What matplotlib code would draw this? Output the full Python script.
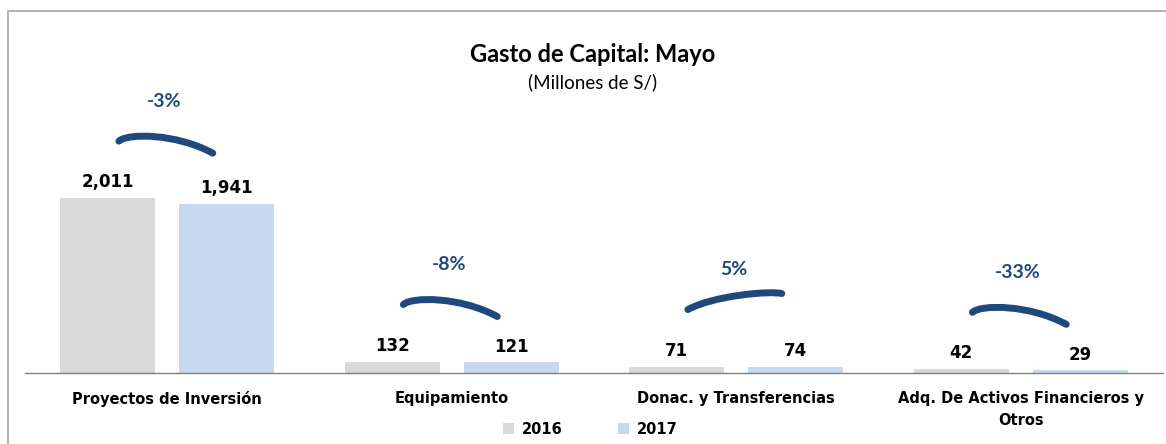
import matplotlib
matplotlib.use('Agg')
import matplotlib.pyplot as plt
import numpy as np
from matplotlib.path import Path
from matplotlib.patches import PathPatch, Patch, Rectangle

# data
categories = ['Proyectos de Inversión', 'Equipamiento', 'Donac. y Transferencias',
              'Adq. De Activos Financieros y\nOtros']
values_2016 = [2011, 132, 71, 42]
values_2017 = [1941, 121, 74, 29]
changes = ['-3%', '-8%', '5%', '-33%']
series_names = ['2016', '2017']

c2016 = '#D9D9D9'
c2017 = '#C6D9F1'
arc_color = '#1F497D'

W, H, DPI = 1166, 444, 100
fig = plt.figure(figsize=(W / DPI, H / DPI), dpi=DPI)

# axes placed in pixel terms
ax_left, ax_right, ax_bottom, ax_top = 25, 1163, 373, 40
ax = fig.add_axes([ax_left / W, (H - ax_bottom) / H,
                   (ax_right - ax_left) / W, (ax_bottom - ax_top) / H])
ymax = 3830
ax.set_ylim(0, ymax)
ax.set_xlim(-0.5, len(categories) - 0.5)
px = ymax / (ax_bottom - ax_top)  # data units per pixel

x = np.arange(len(categories))
bw = 0.334
off = 0.209
b1 = ax.bar(x - off, values_2016, bw, color=c2016, zorder=2)
b2 = ax.bar(x + off, values_2017, bw, color=c2017, zorder=2)

for bars, vals in ((b1, values_2016), (b2, values_2017)):
    for rect, v in zip(bars, vals):
        ax.annotate(f'{v:,}', (rect.get_x() + rect.get_width() / 2, v),
                    xytext=(0, 5), textcoords='offset points',
                    ha='center', va='bottom', fontsize=12, fontweight='bold',
                    family='DejaVu Sans')

# change arcs
for i, (a, b, ch) in enumerate(zip(values_2016, values_2017, changes)):
    base = max(a, b) + 57 * px
    x0, x1 = i - 0.17, i + 0.16
    if b >= a:
        verts = [(x0, base), (i - 0.08, base + 14 * px),
                 (x1 - 0.04, base + 19 * px), (x1, base + 16 * px)]
    else:
        verts = [(x0, base), (x0 + 0.03, base + 8 * px),
                 (x1 - 0.13, base + 8 * px), (x1, base - 12 * px)]
    path = Path(verts, [Path.MOVETO, Path.CURVE4, Path.CURVE4, Path.CURVE4])
    ax.add_patch(PathPatch(path, fill=False, edgecolor=arc_color, lw=5,
                           capstyle='round', zorder=3, clip_on=False))
    ax.text(i - 0.01, base + 40 * px, ch, ha='center', va='center',
            fontsize=14, fontweight='bold', color=arc_color, family='Lato')

ax.set_xticks(x)
ax.set_xticklabels(categories, fontsize=10.5, fontweight='bold', family='DejaVu Sans',
                   linespacing=1.6)
ax.tick_params(axis='x', length=0, pad=13)
ax.set_yticks([])
for s in ('left', 'right', 'top'):
    ax.spines[s].set_visible(False)
ax.spines['bottom'].set_color('#808080')
ax.spines['bottom'].set_linewidth(1.0)
ax.patch.set_alpha(0)

# titles
fig.text(593 / W, 1 - 55 / H, 'Gasto de Capital: Mayo', ha='center', va='center',
         fontsize=17, fontweight='bold', family='Lato')
fig.text(593 / W, 1 - 82 / H, '(Millones de S/)', ha='center', va='center',
         fontsize=13.5, family='Lato')

# legend
handles = [Patch(facecolor=c2016), Patch(facecolor=c2017)]
leg = fig.legend(handles, series_names, loc='center', bbox_to_anchor=(590 / W, 1 - 429 / H),
                 ncol=2, frameon=False, handlelength=0.8, handleheight=0.8,
                 handletextpad=0.5, columnspacing=3.8,
                 prop={'weight': 'bold', 'size': 10.5, 'family': 'DejaVu Sans'})

# outer border (clipped at right and bottom)
fig.patches.append(Rectangle((8 / W, -0.2), 1.2, 1.2 - 11 / H, transform=fig.transFigure,
                             fill=False, edgecolor='#A6A6A6', lw=1.2))

fig.savefig('out.png', dpi=DPI)
